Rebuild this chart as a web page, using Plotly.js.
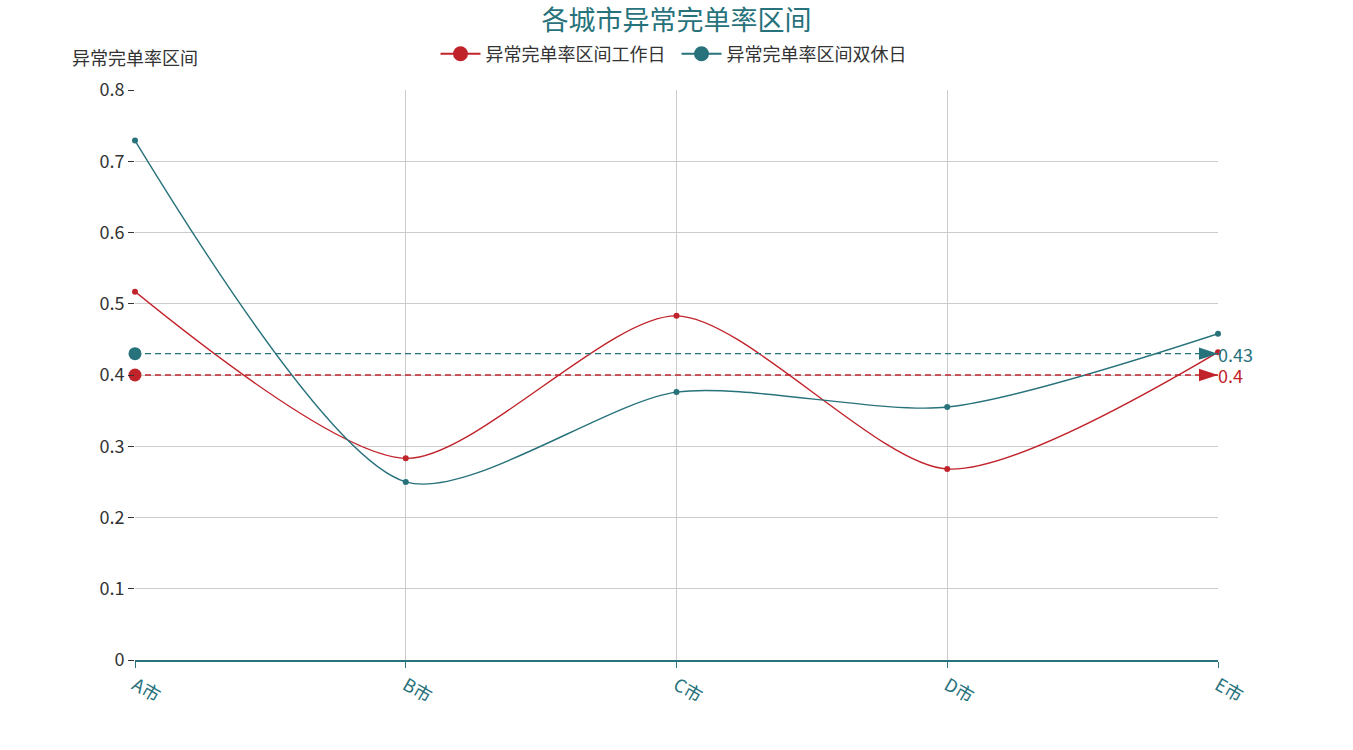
<!DOCTYPE html>
<html>
<head>
<meta charset="utf-8">
<script src="https://cdn.plot.ly/plotly-3.0.1.min.js"></script>
<style>html,body{margin:0;padding:0;background:#fff;}#chart{width:1353px;height:750px;}</style>
</head>
<body>
<div id="chart"></div>
<script>
const categories = ['A市', 'B市', 'C市', 'D市', 'E市'];
const workdayValues = [0.517, 0.283, 0.483, 0.268, 0.432];
const weekendValues = [0.729, 0.250, 0.376, 0.355, 0.458];
const workdayAverage = 0.4;
const weekendAverage = 0.43;
const seriesNames = ['异常完单率区间工作日', '异常完单率区间双休日'];
const yTicks = [0, 0.1, 0.2, 0.3, 0.4, 0.5, 0.6, 0.7, 0.8];

const RED = '#C1232B';
const TEAL = '#27727B';
const FONT = '"Noto Sans CJK SC", "Noto Sans", sans-serif';

const first = categories[0];
const last = categories[categories.length - 1];

function seriesTrace(vals, color) {
  return {
    type: 'scatter', mode: 'lines+markers', x: categories, y: vals,
    line: {color: color, width: 1.4, shape: 'spline', smoothing: 0.75},
    marker: {color: color, size: 6, opacity: 1},
    showlegend: false, cliponaxis: false, hoverinfo: 'x+y'
  };
}
function avgTrace(avg, color) {
  return {
    type: 'scatter', mode: 'lines+markers', x: [first, last], y: [avg, avg],
    line: {color: color, width: 1.3, dash: '6px,4px'},
    marker: {color: color, opacity: 1, symbol: ['circle', 'arrow'], size: [13, 20], angle: [0, 90],
             line: {width: 0}},
    showlegend: false, cliponaxis: false, hoverinfo: 'y'
  };
}
function legendTrace(name, color) {
  return {
    type: 'scatter', mode: 'lines+markers', x: [null], y: [null], name: name,
    line: {color: color, width: 2}, marker: {color: color, size: 15, opacity: 1}
  };
}

const data = [
  seriesTrace(workdayValues, RED),
  seriesTrace(weekendValues, TEAL),
  avgTrace(workdayAverage, RED),
  avgTrace(weekendAverage, TEAL),
  legendTrace(seriesNames[0], RED),
  legendTrace(seriesNames[1], TEAL)
];

const layout = {
  width: 1353, height: 750,
  margin: {l: 135, r: 135, t: 90, b: 90, pad: 0},
  paper_bgcolor: '#fff', plot_bgcolor: '#fff',
  font: {family: FONT, size: 18, color: '#333'},
  title: {text: '各城市异常完单率区间', x: 0.5, xanchor: 'center', xref: 'container',
          y: 1 - 21 / 750, yref: 'container', yanchor: 'middle',
          font: {family: FONT, size: 27, color: TEAL}},
  legend: {orientation: 'h', x: 0.5, xanchor: 'center', y: (660 - 54) / 570, yanchor: 'middle',
           font: {family: FONT, size: 18, color: '#333'}, itemwidth: 40, entrywidth: 186,
           traceorder: 'normal'},
  xaxis: {
    type: 'category', categoryorder: 'array', categoryarray: categories,
    range: [0, categories.length - 1],
    showgrid: true, gridcolor: '#ccc', gridwidth: 1,
    showline: true, linecolor: TEAL, linewidth: 2,
    ticks: 'outside', ticklen: 6, tickcolor: TEAL, tickwidth: 1,
    tickangle: 30, tickfont: {family: FONT, size: 18, color: TEAL},
    zeroline: false, fixedrange: true
  },
  yaxis: {
    range: [0, 0.8], tickvals: yTicks,
    showgrid: true, gridcolor: '#ccc', gridwidth: 1,
    showline: false, zeroline: false,
    ticks: 'outside', ticklen: 6, tickcolor: '#333', tickwidth: 1,
    tickfont: {family: FONT, size: 18, color: '#333'}, fixedrange: true
  },
  annotations: [
    {text: '异常完单率区间', xref: 'paper', yref: 'paper', x: 0, y: (660 - 57) / 570,
     xanchor: 'center', yanchor: 'middle', showarrow: false,
     font: {family: FONT, size: 18, color: '#333'}},
    {text: String(weekendAverage), xref: 'x', yref: 'y', x: last, y: weekendAverage,
     xanchor: 'left', yanchor: 'middle', xshift: -2, showarrow: false,
     font: {family: FONT, size: 18, color: TEAL}},
    {text: String(workdayAverage), xref: 'x', yref: 'y', x: last, y: workdayAverage,
     xanchor: 'left', yanchor: 'middle', xshift: -2, showarrow: false,
     font: {family: FONT, size: 18, color: RED}}
  ]
};

Plotly.newPlot('chart', data, layout, {displayModeBar: false});
</script>
</body>
</html>
